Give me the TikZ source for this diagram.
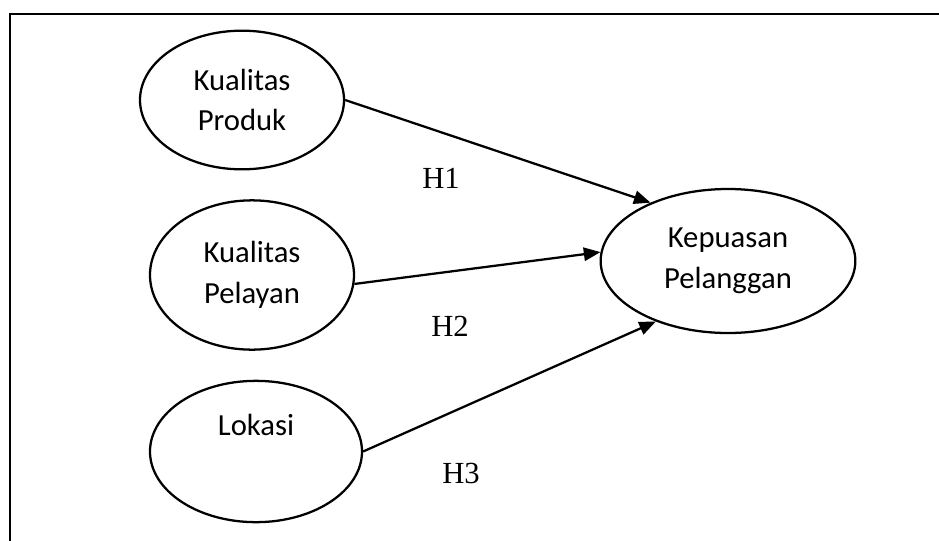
\documentclass[tikz,border=0pt]{standalone}
\usepackage{fontspec}
\setmainfont{Liberation Serif}
\newfontfamily\calib{Carlito}
\usetikzlibrary{shapes.geometric,arrows.meta}
\tikzset{
  var/.style={ellipse, draw, line width=1.7pt, inner sep=0pt, align=center,
    font=\calib\fontsize{23}{30.5}\selectfont},
  link/.style={line width=1.7pt, -{Triangle[length=12.5pt,width=10pt]}},
  hyp/.style={anchor=base, inner sep=0pt, font=\fontsize{23}{27}\selectfont},
  frame/.style={line width=1.6pt}
}
\begin{document}
\begin{tikzpicture}[x=0.75pt,y=-0.75pt]
\useasboundingbox (0,0) rectangle (939,540);
\draw[frame] (10,541) -- (10,14.3) -- (940,14.3);
\node[var, minimum width=153pt, minimum height=104pt] (kp) at (242,100) {Kualitas\\Produk};
\node[var, minimum width=153pt, minimum height=112pt] (kl) at (252,275) {Kualitas\\Pelayan};
\node[var, minimum width=159pt, minimum height=106pt] (lo) at (256,451.5) {Lokasi\\\strut};
\node[var, minimum width=191pt, minimum height=108pt] (ke) at (728,261) {Kepuasan\\Pelanggan};
\draw[link] (kp.east) -- (ke.143);
\draw[link] (kl.-5) -- (ke.176);
\draw[link] (lo.east) -- (ke.-140);
\node[hyp] (h1) at (441,188) {H1};
\node[hyp] (h2) at (450,336) {H2};
\node[hyp] (h3) at (461,483) {H3};
\end{tikzpicture}
\end{document}
